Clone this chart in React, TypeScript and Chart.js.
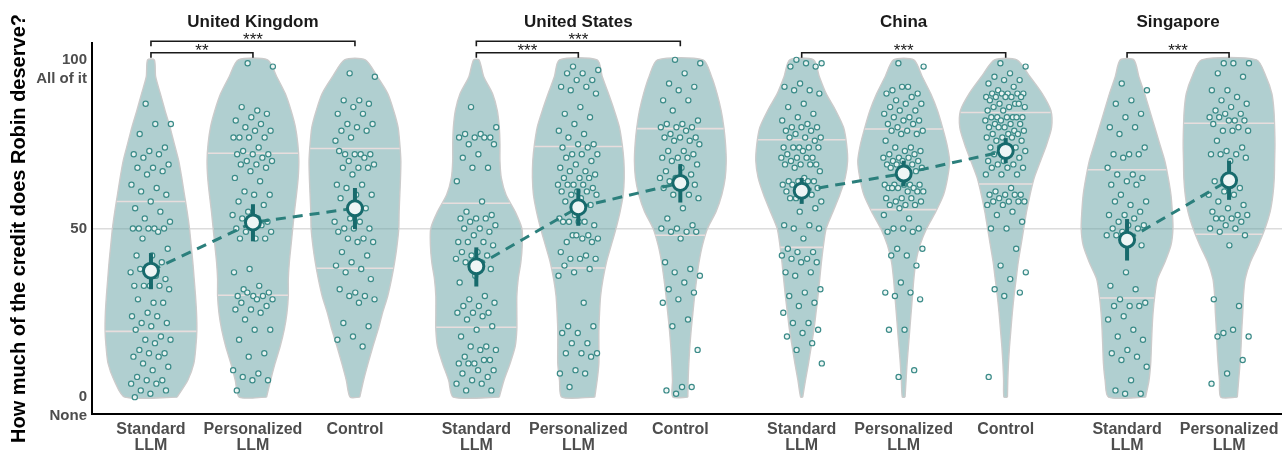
import React, { useEffect, useRef } from "react";
import { Chart, registerables } from "chart.js";

Chart.register(...registerables);

// ---------- categories ----------
const panelTitles = ["United Kingdom", "United States", "China", "Singapore"];
const conditionNames = [["Standard", "LLM"], ["Personalized", "LLM"], ["Control"]];
const groupPanel = [0, 0, 0, 1, 1, 1, 2, 2, 2, 3, 3];
const groupCondition = [0, 1, 2, 0, 1, 2, 0, 1, 2, 0, 1];

// ---------- y ticks ----------
const yTickValues = [0, 50, 100];
const yTickLabels = [["0", "None"], ["50"], ["100", "All of it"]];

// ---------- summary statistics (per group, order as above) ----------
const groupMeans = [37.5, 51.8, 56.0, 38.8, 56.3, 63.5, 61.2, 66.3, 73.0, 46.7, 64.3];
const ciLower = [32.0, 46.2, 49.8, 32.8, 50.8, 57.7, 57.3, 62.5, 69.4, 40.5, 58.5];
const ciUpper = [42.7, 57.2, 62.0, 44.4, 61.8, 69.1, 65.0, 70.1, 76.8, 52.8, 70.1];
const quartile25 = [19.5, 30.2, 38.2, 20.7, 38.3, 48.0, 44.4, 55.6, 63.2, 29.4, 48.3];
const quartile75 = [58.0, 72.3, 73.7, 57.5, 74.3, 79.6, 76.3, 79.5, 84.4, 67.4, 81.2];

// ---------- violin density profiles (relative density at each level) ----------
const densityLevels = [0, 5, 10, 15, 20, 25, 30, 35, 40, 45, 50, 55, 60, 65, 70, 75, 80, 85, 90, 95, 100];
const densityUkStandard = [78, 110, 128, 134, 137, 136, 133, 129, 125, 120, 115, 108, 100, 92, 83, 70, 57, 42, 28, 14, 10];
const densityUkPersonalized = [40, 52, 65, 80, 92, 100, 104, 104, 107, 112, 117, 122, 128, 133, 135, 132, 125, 112, 95, 70, 43];
const densityUkControl = [14, 25, 38, 52, 67, 80, 95, 106, 115, 122, 127, 128, 130, 132, 133, 130, 125, 112, 95, 65, 30];
const densityUsStandard = [68, 82, 100, 115, 120, 120, 120, 124, 132, 136, 135, 115, 88, 74, 70, 70, 68, 62, 48, 22, 8];
const densityUsPersonalized = [48, 55, 60, 60, 60, 62, 65, 72, 82, 96, 110, 122, 131, 134, 133, 128, 120, 105, 88, 70, 55];
const densityUsControl = [22, 23, 25, 28, 32, 37, 42, 48, 55, 65, 80, 105, 122, 132, 135, 133, 128, 120, 108, 92, 67];
const densityCnStandard = [3, 11, 20, 28, 36, 42, 48, 53, 58, 64, 72, 92, 112, 128, 135, 132, 123, 100, 72, 52, 35];
const densityCnPersonalized = [4, 7, 10, 14, 18, 22, 26, 30, 36, 48, 68, 95, 118, 130, 136, 128, 115, 100, 80, 55, 30];
const densityCnControl = [5, 6, 8, 11, 15, 19, 24, 30, 36, 44, 52, 60, 70, 82, 100, 118, 132, 130, 105, 70, 32];
const densitySgStandard = [55, 65, 70, 72, 74, 77, 82, 90, 112, 130, 136, 134, 130, 122, 112, 97, 82, 67, 52, 35, 20];
const densitySgPersonalized = [24, 28, 32, 35, 37, 40, 42, 47, 62, 85, 105, 120, 128, 132, 133, 134, 133, 131, 125, 108, 80];

// ---------- individual responses ----------
const ukStandard = [87, 81, 81, 78, 74, 73, 72, 72, 71, 69, 68, 68, 67, 66, 63, 62, 61, 60, 58, 56, 55, 53, 52, 50, 50, 50, 50, 50, 49, 47, 44, 42, 42, 40, 38, 37, 36, 38, 35, 33, 33, 33, 33, 32, 28, 29, 28, 25, 24, 24, 22, 22, 21, 20, 18, 17, 17, 16, 14, 13, 13, 12, 12, 10, 9, 8, 6, 5, 5, 4, 4, 2, 2, 1, 0];
const ukPersonalized = [99, 98, 85, 86, 84, 83, 82, 81, 80, 79, 79, 77, 77, 77, 77, 74, 73, 72, 72, 72, 71, 70, 70, 69, 69, 68, 67, 65, 64, 61, 60, 60, 58, 57, 55, 54, 53, 53, 52, 51, 50, 51, 49, 49, 47, 47, 47, 38, 37, 33, 32, 31, 30, 30, 30, 31, 29, 29, 28, 27, 26, 26, 25, 23, 20, 20, 17, 13, 12, 8, 7, 6, 5, 5, 2];
const ukControl = [96, 95, 88, 88, 87, 86, 84, 84, 81, 81, 80, 79, 79, 77, 76, 72, 72, 72, 72, 73, 71, 70, 69, 68, 68, 68, 66, 63, 63, 62, 60, 60, 59, 56, 53, 52, 52, 50, 50, 50, 49, 47, 47, 46, 46, 43, 42, 40, 39, 38, 37, 35, 31, 32, 30, 30, 29, 28, 22, 21, 18, 17, 15];
const usStandard = [86, 80, 78, 78, 77, 77, 77, 77, 75, 75, 72, 71, 68, 68, 64, 58, 55, 54, 53, 53, 53, 52, 51, 50, 50, 49, 48, 46, 46, 46, 45, 43, 43, 42, 42, 41, 40, 40, 38, 36, 34, 30, 29, 28, 27, 27, 25, 25, 25, 24, 23, 21, 20, 18, 15, 15, 14, 14, 12, 11, 10, 10, 11, 10, 8, 8, 7, 6, 5, 4, 4, 2, 2];
const usPersonalized = [98, 97, 96, 96, 94, 94, 92, 92, 91, 90, 86, 84, 83, 81, 79, 78, 77, 75, 75, 74, 74, 72, 72, 72, 71, 70, 69, 68, 67, 67, 66, 65, 65, 65, 63, 63, 63, 63, 62, 61, 61, 61, 60, 60, 59, 58, 57, 54, 53, 52, 52, 51, 52, 52, 48, 48, 47, 47, 46, 46, 48, 43, 42, 41, 41, 41, 39, 38, 37, 36, 28, 21, 21, 19, 19, 16, 16, 13, 13, 13, 12, 8, 7, 7, 3];
const usControl = [100, 99, 96, 93, 92, 91, 88, 88, 85, 82, 81, 81, 80, 80, 80, 79, 78, 77, 77, 77, 76, 76, 75, 73, 73, 72, 71, 71, 71, 70, 69, 68, 67, 66, 65, 65, 64, 64, 63, 62, 62, 60, 60, 59, 56, 53, 51, 50, 50, 49, 49, 49, 47, 40, 38, 37, 36, 34, 32, 31, 29, 28, 23, 21, 14, 3, 2, 3, 1];
const cnStandard = [100, 99, 99, 98, 98, 93, 92, 91, 91, 90, 87, 86, 84, 83, 82, 81, 80, 80, 80, 79, 79, 78, 77, 77, 77, 76, 74, 74, 74, 74, 74, 73, 72, 71, 71, 71, 71, 70, 69, 69, 69, 69, 68, 67, 65, 64, 64, 64, 63, 64, 63, 62, 62, 61, 60, 59, 58, 62, 59, 56, 55, 51, 51, 50, 50, 47, 44, 43, 43, 42, 41, 41, 40, 40, 37, 37, 36, 32, 31, 30, 28, 27, 25, 22, 22, 20, 19, 18, 16, 14, 10];
const cnPersonalized = [99, 98, 92, 91, 90, 92, 90, 89, 88, 87, 87, 86, 85, 85, 84, 83, 83, 82, 82, 81, 81, 80, 79, 79, 79, 78, 78, 76, 74, 74, 73, 73, 72, 72, 71, 71, 71, 70, 70, 70, 69, 69, 69, 68, 68, 68, 67, 66, 63, 63, 63, 63, 63, 62, 62, 62, 61, 61, 62, 61, 59, 59, 59, 58, 58, 57, 57, 57, 56, 54, 53, 50, 50, 50, 49, 49, 44, 44, 42, 42, 39, 34, 31, 31, 30, 29, 20, 20, 8, 6];
const cnControl = [99, 98, 96, 95, 94, 94, 93, 92, 91, 90, 90, 90, 90, 90, 89, 89, 89, 89, 89, 88, 87, 87, 86, 86, 86, 87, 85, 85, 83, 83, 83, 83, 83, 83, 82, 82, 81, 81, 81, 80, 80, 79, 80, 79, 78, 78, 78, 77, 77, 77, 76, 76, 74, 74, 74, 74, 73, 72, 72, 71, 70, 70, 69, 69, 68, 68, 68, 66, 66, 66, 62, 61, 60, 60, 60, 60, 59, 58, 58, 58, 58, 57, 57, 55, 54, 52, 50, 50, 44, 39, 37, 35, 32, 31, 30, 6];
const sgStandard = [93, 91, 88, 87, 84, 83, 80, 80, 78, 74, 72, 72, 72, 71, 68, 66, 66, 65, 64, 63, 63, 60, 58, 57, 58, 55, 54, 54, 53, 52, 51, 51, 50, 50, 49, 48, 46, 48, 45, 37, 33, 32, 29, 28, 27, 27, 27, 24, 23, 20, 18, 17, 14, 13, 12, 11, 9, 5, 2, 1, 1];
const sgPersonalized = [99, 99, 99, 96, 95, 91, 91, 89, 88, 87, 86, 85, 84, 84, 83, 82, 83, 82, 82, 81, 80, 79, 79, 79, 76, 74, 73, 72, 72, 72, 71, 70, 64, 62, 61, 60, 60, 58, 57, 56, 55, 54, 53, 54, 53, 53, 52, 51, 50, 50, 49, 48, 45, 29, 27, 19, 18, 20, 18, 11, 7, 4];

// ---------- significance brackets ----------
const bracketPanel = [0, 0, 1, 1, 2, 3];
const bracketFrom = [0, 0, 0, 0, 0, 0];
const bracketTo = [1, 2, 1, 2, 2, 1];
const bracketTier = [0, 1, 0, 1, 0, 0];
const bracketLabels = ["**", "***", "***", "***", "***", "***"];

// ---------- layout / style constants ----------
const PANEL_STEP = 3.19;
const VIOLIN_HALF = 0.45;
const JITTER_WIDTH = 0.4;
const FONT = "'Liberation Sans', Arial, Helvetica, sans-serif";
const VIOLIN_FILL = "rgba(98,160,161,0.5)";
const VIOLIN_BORDER = "#cbcbcb";
const QUARTILE_COLOR = "rgba(236,222,222,0.95)";
const POINT_STROKE = "#3b8b88";
const POINT_FILL = "rgba(238,246,245,0.9)";
const MEAN_COLOR = "#176a6c";
const DASH_COLOR = "#2b7f7c";

export default function App() {
  const ref = useRef<HTMLCanvasElement | null>(null);

  useEffect(() => {
    document.body.style.margin = "0";
    document.body.style.overflow = "hidden";
    const canvas = ref.current;
    if (!canvas) return;

    const densities = [
      densityUkStandard, densityUkPersonalized, densityUkControl,
      densityUsStandard, densityUsPersonalized, densityUsControl,
      densityCnStandard, densityCnPersonalized, densityCnControl,
      densitySgStandard, densitySgPersonalized,
    ];
    const responses = [
      ukStandard, ukPersonalized, ukControl,
      usStandard, usPersonalized, usControl,
      cnStandard, cnPersonalized, cnControl,
      sgStandard, sgPersonalized,
    ];
    const pos = (g: number) => groupPanel[g] * PANEL_STEP + groupCondition[g];
    const halfWidthAt = (g: number, v: number) => {
      const d = densities[g];
      const m = Math.max(...d);
      let i = 0;
      while (i < densityLevels.length - 2 && densityLevels[i + 1] < v) i++;
      const t = (v - densityLevels[i]) / (densityLevels[i + 1] - densityLevels[i]);
      return ((d[i] + (d[i + 1] - d[i]) * t) / m) * VIOLIN_HALF;
    };
    const jitter = (i: number) => ((((i * 0.6180339887 + 0.37) % 1) - 0.5) * JITTER_WIDTH);

    const datasets: any[] = [];
    responses.forEach((_, g) => {
      const c = pos(g);
      const d = densities[g];
      const m = Math.max(...d);
      const right = densityLevels.map((v, i) => ({ x: c + (d[i] / m) * VIOLIN_HALF, y: v }));
      const left = densityLevels.map((v, i) => ({ x: c - (d[i] / m) * VIOLIN_HALF, y: v })).reverse();
      datasets.push({
        type: "line",
        data: [...right, ...left, right[0]],
        fill: "shape",
        backgroundColor: VIOLIN_FILL,
        borderColor: VIOLIN_BORDER,
        borderWidth: 1.4,
        pointRadius: 0,
        pointHitRadius: 0,
        tension: 0.25,
        order: 6,
      });
      [quartile25[g], quartile75[g]].forEach((q) => {
        const w = halfWidthAt(g, q);
        datasets.push({
          type: "line",
          data: [{ x: c - w + 0.004, y: q }, { x: c + w - 0.004, y: q }],
          borderColor: QUARTILE_COLOR,
          borderWidth: 1.6,
          pointRadius: 0,
          pointHitRadius: 0,
          fill: false,
          order: 5,
        });
      });
      datasets.push({
        type: "scatter",
        data: responses[g].map((v, i) => ({ x: c + jitter(i), y: v })),
        pointRadius: 2.6,
        pointBorderWidth: 1.2,
        pointBorderColor: POINT_STROKE,
        pointBackgroundColor: POINT_FILL,
        order: 4,
      });
      datasets.push({
        type: "line",
        data: [{ x: c, y: ciLower[g] }, { x: c, y: ciUpper[g] }],
        borderColor: MEAN_COLOR,
        borderWidth: 4,
        pointRadius: 0,
        pointHitRadius: 0,
        fill: false,
        order: 2,
      });
    });
    panelTitles.forEach((_, p) => {
      const gs = groupPanel.map((pp, g) => (pp === p ? g : -1)).filter((g) => g >= 0);
      datasets.push({
        type: "line",
        data: gs.map((g) => ({ x: pos(g), y: groupMeans[g] })),
        borderColor: DASH_COLOR,
        borderWidth: 3,
        borderDash: [10, 7],
        pointRadius: 0,
        pointHitRadius: 0,
        fill: false,
        order: 3,
      });
    });
    datasets.push({
      type: "scatter",
      data: groupMeans.map((v, g) => ({ x: pos(g), y: v })),
      pointRadius: 7.5,
      pointBorderWidth: 3,
      pointBorderColor: MEAN_COLOR,
      pointBackgroundColor: "#eef5f5",
      order: 1,
    });

    const groupPositions = groupMeans.map((_, g) => pos(g));

    const annotations = {
      id: "facetAnnotations",
      afterDraw(chart: any) {
        const { ctx } = chart;
        const x = chart.scales.x;
        const y = chart.scales.y;
        ctx.save();
        ctx.fillStyle = "#1a1a1a";
        ctx.textAlign = "center";
        ctx.textBaseline = "alphabetic";
        ctx.font = `bold 17px ${FONT}`;
        panelTitles.forEach((t, p) => {
          const xs = groupPositions.filter((_, g) => groupPanel[g] === p);
          const cx = x.getPixelForValue((Math.min(...xs) + Math.max(...xs)) / 2);
          ctx.fillText(t, cx, 27);
        });
        ctx.strokeStyle = "#1a1a1a";
        ctx.lineWidth = 1.6;
        ctx.font = `17px ${FONT}`;
        bracketPanel.forEach((p, i) => {
          const x1 = x.getPixelForValue(p * PANEL_STEP + bracketFrom[i]);
          const x2 = x.getPixelForValue(p * PANEL_STEP + bracketTo[i]);
          const yy = y.getPixelForValue(bracketTier[i] === 1 ? 105.5 : 102.1);
          ctx.beginPath();
          ctx.moveTo(x1, yy + 5);
          ctx.lineTo(x1, yy);
          ctx.lineTo(x2, yy);
          ctx.lineTo(x2, yy + 5);
          ctx.stroke();
          ctx.fillText(bracketLabels[i], (x1 + x2) / 2, yy + 3.5);
        });
        ctx.restore();
      },
    };

    const chart = new Chart(canvas, {
      type: "scatter",
      data: { datasets },
      options: {
        animation: false,
        responsive: false,
        devicePixelRatio: 1,
        events: [],
        layout: { autoPadding: false, padding: { top: 43, left: 0, right: 0, bottom: 0 } },
        plugins: { legend: { display: false }, tooltip: { enabled: false } },
        scales: {
          x: {
            type: "linear",
            min: -0.578,
            max: 11.089,
            grid: { display: false },
            border: { display: true, color: "#000", width: 2 },
            afterBuildTicks: (scale: any) => {
              scale.ticks = groupPositions.map((v) => ({ value: v }));
            },
            afterFit: (scale: any) => {
              scale.height = 37;
              scale.paddingLeft = 0;
              scale.paddingRight = 0;
            },
            ticks: {
              autoSkip: false,
              maxRotation: 0,
              minRotation: 0,
              padding: 0,
              color: "#4d4d4d",
              font: { family: FONT, size: 16, weight: "bold", lineHeight: 1.0 },
              callback: (_v: any, i: number) => conditionNames[groupCondition[i]],
            },
          },
          y: {
            type: "linear",
            min: -5,
            max: 105,
            grid: {
              drawTicks: false,
              lineWidth: 1.5,
              color: (c: any) => (c.tick && c.tick.value === 50 ? "#dcdcdc" : "rgba(0,0,0,0)"),
            },
            border: { display: true, color: "#000", width: 2 },
            afterBuildTicks: (scale: any) => {
              scale.ticks = yTickValues.map((v) => ({ value: v }));
            },
            afterFit: (scale: any) => {
              scale.width = 92;
              scale.paddingTop = 0;
              scale.paddingBottom = 0;
            },
            ticks: {
              autoSkip: false,
              padding: 5,
              color: "#4d4d4d",
              font: { family: FONT, size: 15, weight: "bold", lineHeight: 1.25 },
              callback: (v: any) => {
                const lines = yTickLabels[yTickValues.indexOf(Number(v))] || [String(v)];
                return lines.length > 1 ? [" ", ...lines] : lines;
              },
            },
            title: {
              display: true,
              text: "How much of the credit does Robin deserve?",
              color: "#000",
              font: { family: FONT, size: 20, weight: "bold", lineHeight: 1.2 },
              padding: { top: 7, bottom: 0 },
            },
          },
        },
      },
      plugins: [annotations],
    } as any);

    return () => chart.destroy();
  }, []);

  return (
    <div style={{ width: 1282, height: 451 }}>
      <canvas ref={ref} width={1282} height={451} style={{ display: "block" }} />
    </div>
  );
}
